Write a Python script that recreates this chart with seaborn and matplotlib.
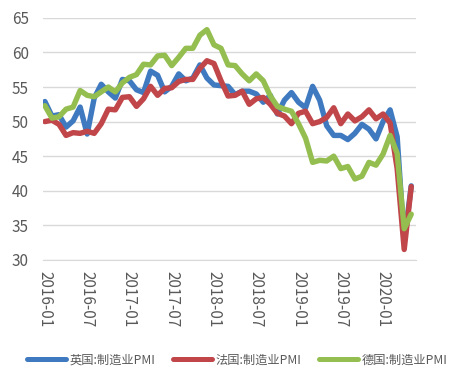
import numpy as np
import pandas as pd
import seaborn as sns
import matplotlib.pyplot as plt

# monthly manufacturing PMI, 2016-01 .. 2020-05
months = pd.date_range("2016-01", "2020-05", freq="MS").strftime("%Y-%m").tolist()

uk = [52.9, 50.8, 51.0, 49.2, 50.1, 52.1, 48.2, 53.4, 55.4, 54.3, 53.4, 56.1,
      55.9, 54.6, 54.2, 57.3, 56.7, 54.3, 55.1, 56.9, 55.9, 56.3, 58.2, 56.3,
      55.3, 55.2, 55.1, 53.9, 54.4, 54.4, 54.0, 52.8, 53.8, 51.1, 53.1, 54.2,
      52.8, 52.0, 55.1, 53.1, 49.4, 48.0, 48.0, 47.4, 48.3, 49.6, 48.9, 47.5,
      50.0, 51.7, 47.8, 32.6, 40.7]
france = [50.0, 50.2, 49.6, 48.0, 48.4, 48.3, 48.6, 48.3, 49.7, 51.8, 51.7, 53.5,
          53.6, 52.2, 53.3, 55.1, 53.8, 54.8, 54.9, 55.8, 56.1, 56.1, 57.7, 58.8,
          58.4, 55.9, 53.7, 53.8, 54.4, 52.5, 53.3, 53.5, 52.5, 51.2, 50.8, 49.7,
          51.2, 51.5, 49.7, 50.0, 50.6, 52.0, 49.7, 51.1, 50.1, 50.7, 51.7, 50.4,
          51.1, 49.8, 43.2, 31.5, 40.6]
germany = [52.3, 50.5, 50.7, 51.8, 52.1, 54.5, 53.8, 53.6, 54.3, 55.0, 54.3, 55.6,
           56.4, 56.8, 58.3, 58.2, 59.5, 59.6, 58.1, 59.3, 60.6, 60.6, 62.5, 63.3,
           61.1, 60.6, 58.2, 58.1, 56.9, 55.9, 56.9, 55.9, 53.7, 52.2, 51.8, 51.5,
           49.7, 47.6, 44.1, 44.4, 44.3, 45.0, 43.2, 43.5, 41.7, 42.1, 44.1, 43.7,
           45.3, 48.0, 45.4, 34.5, 36.6]

names = ["英国:制造业PMI", "法国:制造业PMI", "德国:制造业PMI"]
colors = ["#3F7AC0", "#C0464A", "#94BE50"]

rows = []
for name, vals in zip(names, [uk, france, germany]):
    for i, v in enumerate(vals):
        rows.append({"idx": i, "month": months[i], "series": name, "pmi": v})
df = pd.DataFrame(rows)

sns.set_style("white")
plt.rcParams['font.family'] = ['Noto Sans CJK SC', 'DejaVu Sans']

fig = plt.figure(figsize=(4.65, 3.81), dpi=100)
ax = fig.add_axes([0.092, 0.318, 0.803, 0.635])

sns.lineplot(data=df, x="idx", y="pmi", hue="series", palette=colors,
             linewidth=3.9, ax=ax, legend=False)
for ln in ax.lines:
    ln.set_solid_joinstyle("round")
    ln.set_solid_capstyle("round")

ax.set_ylim(30, 65)
ax.set_yticks(np.arange(30, 66, 5))
ax.set_xlim(-0.3, 52.7)
tick_pos = list(range(0, len(months), 6))
ax.set_xticks(tick_pos)
ax.set_xticklabels([months[i] for i in tick_pos], rotation=-90)
ax.set_xlabel("")
ax.set_ylabel("")

ax.grid(axis="y", color="#D9D9D9", linewidth=1)
ax.set_axisbelow(True)
for s in ["top", "right", "left"]:
    ax.spines[s].set_visible(False)
ax.spines["bottom"].set_color("#D9D9D9")
ax.tick_params(axis="x", colors="#D9D9D9", labelcolor="#595959", length=4,
               width=1, direction="out", labelsize=11, pad=4)
ax.tick_params(axis="y", labelcolor="#595959", length=0, labelsize=11, pad=10)

handles = [plt.Line2D([], [], color=c, linewidth=3.6) for c in colors]
fig.legend(handles, names, loc="center", bbox_to_anchor=(0.51, 0.055), ncol=3,
           frameon=False, fontsize=8.8, handlelength=3.2, columnspacing=1.4,
           handletextpad=0.3, labelcolor="#595959")

fig.savefig("out.png", dpi=100)
